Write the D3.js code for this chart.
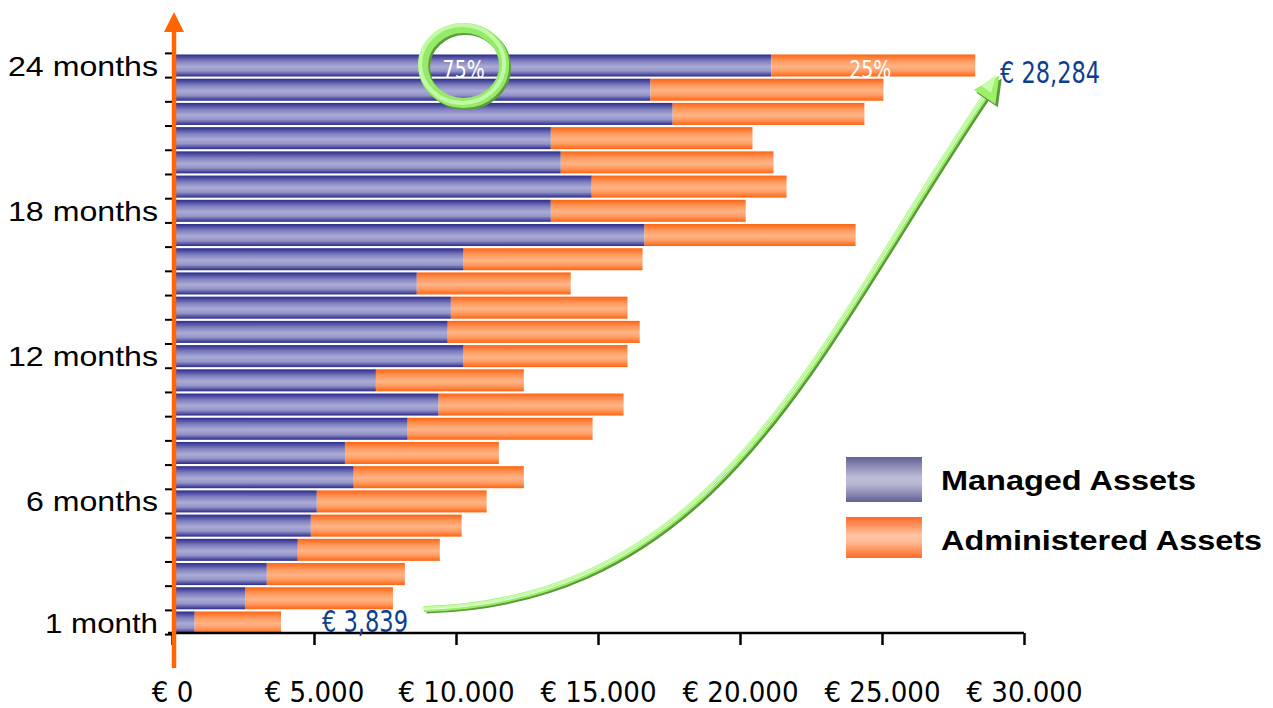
<!DOCTYPE html>
<html>
<head>
<meta charset="utf-8">
<script src="https://cdn.jsdelivr.net/npm/d3@7/dist/d3.min.js"></script>
<style>
  html, body { margin: 0; padding: 0; background: #fff; }
  svg { display: block; }
</style>
</head>
<body>
<svg id="chart" width="1273" height="708"></svg>
<script>
// Monthly asset totals (EUR), month 1 .. month 24
const months = d3.range(1, 25);
const managed = [800, 2570, 3340, 4430, 4890, 5100, 6400, 6090, 8300, 9390, 7180, 10270,
                 9710, 9820, 8620, 10270, 16640, 13340, 14780, 13690, 13340, 17630, 16850, 21100];
const administered = [3039, 5210, 4860, 5000, 5310, 5980, 5990, 5420, 6510, 6510, 5210, 5770,
                      6760, 6220, 5420, 6300, 7430, 6860, 6860, 7490, 7100, 6750, 8200, 7184];
const labelledMonths = [24, 18, 12, 6, 1];
const monthLabels = ["24 months", "18 months", "12 months", "6 months", "1 month"];
const xTicks = [0, 5000, 10000, 15000, 20000, 25000, 30000];
const xTickLabels = ["€ 0", "€ 5.000", "€ 10.000", "€ 15.000", "€ 20.000", "€ 25.000", "€ 30.000"];
const seriesNames = ["Managed Assets", "Administered Assets"];
const firstTotalLabel = "€ 3,839";
const lastTotalLabel = "€ 28,284";
const lastShares = ["75%", "25%"];

const svg = d3.select("#chart");
const narrow = "'Liberation Sans Narrow', 'DejaVu Sans Condensed', 'Liberation Sans', Arial, sans-serif";
const sans = "'Liberation Sans', Arial, sans-serif";

const x = d3.scaleLinear().domain([0, 30000]).range([172, 1024]);
const y = d3.scaleBand().domain(months.slice().reverse()).range([54, 634]).paddingInner(0.09).paddingOuter(0.02);

// gradients
const defs = svg.append("defs");
function grad(id, stops) {
  const g = defs.append("linearGradient").attr("id", id)
    .attr("x1", 0).attr("y1", 0).attr("x2", 0).attr("y2", 1);
  stops.forEach(([o, c]) => g.append("stop").attr("offset", o).attr("stop-color", c));
}
grad("gManaged", [[0, "#2b2b8c"], [0.3, "#8080c0"], [0.55, "#ababd6"], [0.75, "#9595c8"], [1, "#2b2b8c"]]);
grad("gAdmin", [[0, "#ff6410"], [0.3, "#ff9a60"], [0.55, "#ffb485"], [0.75, "#ff9c62"], [1, "#ff6410"]]);
grad("gLegManaged", [[0, "#626296"], [0.45, "#bcbcd8"], [0.6, "#b8b8d4"], [1, "#626296"]]);
grad("gLegAdmin", [[0, "#ff6a28"], [0.45, "#ffc4a2"], [0.6, "#ffbc96"], [1, "#ff6a28"]]);

// bars
const rows = months.map((m, i) => ({ m, managed: managed[i], admin: administered[i] }));
const bh = y.bandwidth();
svg.append("g").selectAll("rect").data(rows).join("rect")
  .attr("x", x(0)).attr("y", d => y(d.m))
  .attr("width", d => x(d.managed) - x(0)).attr("height", bh)
  .attr("fill", "url(#gManaged)");
svg.append("g").selectAll("rect").data(rows).join("rect")
  .attr("x", d => x(d.managed)).attr("y", d => y(d.m))
  .attr("width", d => x(d.managed + d.admin) - x(d.managed)).attr("height", bh)
  .attr("fill", "url(#gAdmin)");

// x axis
const xAxis = svg.append("g").attr("transform", "translate(0,633)")
  .call(d3.axisBottom(x).tickValues(xTicks).tickSize(12).tickFormat((d, i) => xTickLabels[i]));
xAxis.select(".domain").attr("d", `M168,0H${x(30000)}`).attr("stroke", "#000").attr("stroke-width", 2.5);
xAxis.selectAll(".tick line").attr("stroke", "#000").attr("stroke-width", 2.5);
xAxis.selectAll(".tick text").attr("y", 48).attr("font-family", narrow)
  .attr("font-size", 29).attr("fill", "#000");

// y ticks at band edges
const step = y.step();
const edges = months.map(m => y(m) - step * y.paddingInner() / 2);
edges.push(y(1) + bh + step * y.paddingInner() / 2);
svg.append("g").selectAll("line").data(edges).join("line")
  .attr("x1", 165).attr("x2", 172).attr("y1", d => d).attr("y2", d => d)
  .attr("stroke", "#000").attr("stroke-width", 2);

// orange vertical axis with arrow head
svg.append("line").attr("x1", 174).attr("x2", 174).attr("y1", 28).attr("y2", 668)
  .attr("stroke", "#ff6600").attr("stroke-width", 4.5);
svg.append("path").attr("d", "M174,12L184,32L164,32Z").attr("fill", "#ff6600");

// month labels
const monthLabelWidths = [150, 150, 150, 132, 113];
svg.append("g").selectAll("text").data(labelledMonths).join("text")
  .attr("x", 158).attr("y", d => y(d) + bh / 2).attr("dy", "0.36em")
  .attr("text-anchor", "end").attr("font-family", sans)
  .attr("font-size", 28).attr("fill", "#000")
  .attr("textLength", (d, i) => monthLabelWidths[i]).attr("lengthAdjust", "spacingAndGlyphs")
  .text((d, i) => monthLabels[i]);

// highlight ring around the managed share
const last = rows[rows.length - 1];
const ringX = x(last.managed / 2) - 8, ringY = y(24) + bh / 2;
const ring = svg.append("g").attr("transform", `translate(${ringX},${ringY})`);
ring.append("ellipse").attr("cx", 2).attr("cy", 2).attr("rx", 40.5).attr("ry", 37.5)
  .attr("fill", "none").attr("stroke", "#5c9c3a").attr("stroke-width", 10);
ring.append("ellipse").attr("cx", 0).attr("cy", 0).attr("rx", 40.5).attr("ry", 37.5)
  .attr("fill", "none").attr("stroke", "#95ea6a").attr("stroke-width", 10);
ring.append("ellipse").attr("cx", -1.5).attr("cy", -1.5).attr("rx", 42).attr("ry", 39)
  .attr("fill", "none").attr("stroke", "#c2f9a6").attr("stroke-width", 4);

// share labels on last bar
svg.append("text").attr("x", ringX).attr("y", 78)
  .attr("text-anchor", "middle").attr("font-family", narrow).attr("font-size", 24)
  .attr("textLength", 42).attr("lengthAdjust", "spacingAndGlyphs")
  .attr("fill", "#fff").text(lastShares[0]);
svg.append("text").attr("x", x(last.managed + last.admin / 2) - 3).attr("y", 78)
  .attr("text-anchor", "middle").attr("font-family", narrow).attr("font-size", 24)
  .attr("textLength", 42).attr("lengthAdjust", "spacingAndGlyphs")
  .attr("fill", "#fff").text(lastShares[1]);

// growth arrow: flat start bending smoothly into a steep climb
const a0 = [424, 609], a1 = [724, 600], a2 = [819, 340], a3 = [988, 92];
const curve = d3.path();
curve.moveTo(...a0); curve.bezierCurveTo(...a1, ...a2, ...a3);
const curveD = curve.toString();
const arrow = svg.append("g");
arrow.append("path").attr("d", curveD).attr("transform", "translate(2.5,2.5)")
  .attr("fill", "none").attr("stroke", "#5b9a38").attr("stroke-width", 4);
arrow.append("path").attr("d", curveD)
  .attr("fill", "none").attr("stroke", "#99ee66").attr("stroke-width", 6);
arrow.append("path").attr("d", curveD).attr("transform", "translate(-1.5,-1)")
  .attr("fill", "none").attr("stroke", "#c6fbaa").attr("stroke-width", 2.5);
arrow.append("path").attr("d", curveD).attr("transform", "translate(0.3,0.3)")
  .attr("fill", "none").attr("stroke", "#f2fff0").attr("stroke-width", 1);
const ang = Math.atan2(a3[1] - a2[1], a3[0] - a2[0]);
const tip = [a3[0] + 20 * Math.cos(ang), a3[1] + 20 * Math.sin(ang)];
const headPts = (t, len, half) => {
  const bx = t[0] - len * Math.cos(ang), by = t[1] - len * Math.sin(ang);
  const nx = -Math.sin(ang), ny = Math.cos(ang);
  return `M${t[0]},${t[1]}L${bx + half * nx},${by + half * ny}L${bx - half * nx},${by - half * ny}Z`;
};
arrow.append("path").attr("d", headPts(tip, 26, 13)).attr("transform", "translate(2.5,3)").attr("fill", "#5b9a38");
arrow.append("path").attr("d", headPts(tip, 26, 13)).attr("fill", "#9cf06c");
arrow.append("path").attr("d", headPts([tip[0] - 3, tip[1] - 1], 18, 6)).attr("fill", "#c8fbaa");

// total labels
svg.append("text").attr("x", 322).attr("y", 632)
  .attr("font-family", narrow).attr("font-size", 30)
  .attr("textLength", 86).attr("lengthAdjust", "spacingAndGlyphs")
  .attr("fill", "#0d3f8f").text(firstTotalLabel);
svg.append("text").attr("x", 1000).attr("y", 83)
  .attr("font-family", narrow).attr("font-size", 30)
  .attr("textLength", 100).attr("lengthAdjust", "spacingAndGlyphs")
  .attr("fill", "#0d3f8f").text(lastTotalLabel);

// legend
const legend = svg.append("g");
const legFills = ["url(#gLegManaged)", "url(#gLegAdmin)"];
const legY = [457, 517];
const legTextWidths = [255, 321];
seriesNames.forEach((name, i) => {
  legend.append("rect").attr("x", 846).attr("y", legY[i]).attr("width", 76).attr("height", i ? 41 : 45)
    .attr("fill", legFills[i]);
  legend.append("text").attr("x", 941).attr("y", legY[i] + 23).attr("dy", "0.36em")
    .attr("font-family", sans).attr("font-weight", "bold")
    .attr("font-size", 28).attr("fill", "#000")
    .attr("textLength", legTextWidths[i]).attr("lengthAdjust", "spacingAndGlyphs")
    .text(name);
});
</script>
</body>
</html>
